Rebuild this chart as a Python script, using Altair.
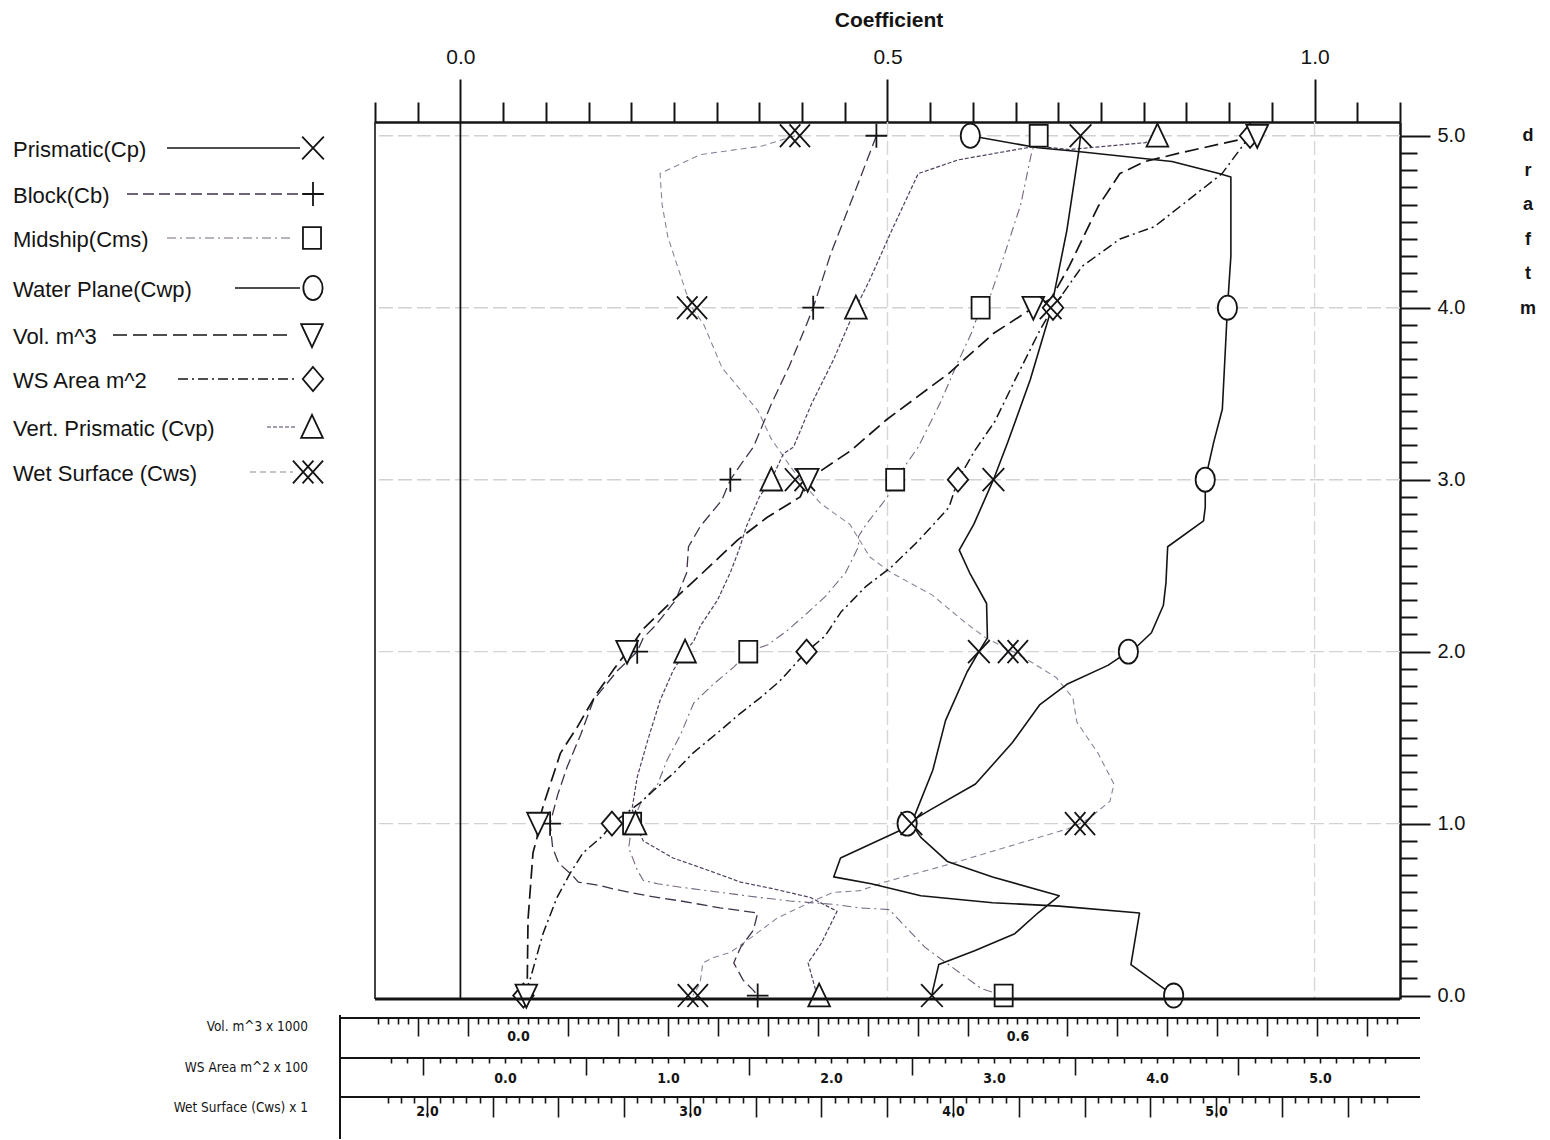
import altair as alt
import pandas as pd

# ---------------- values ----------------
MARK_DRAFTS = [0, 1, 2, 3, 4, 5]

# Prismatic (Cp)
cp_draft = [5.0, 4.91, 4.45, 3.98, 3.58, 3.22, 3.0, 2.74, 2.59, 2.46, 2.28, 2.08, 2.0, 1.88, 1.60, 1.31, 1.0,
            0.92, 0.78, 0.69, 0.58, 0.48, 0.36, 0.26, 0.18, 0.03, 0.0]
cp_value = [0.726, 0.724, 0.710, 0.691, 0.667, 0.641, 0.624, 0.601, 0.584, 0.596, 0.616, 0.617, 0.607, 0.593,
            0.568, 0.553, 0.528, 0.539, 0.570, 0.623, 0.701, 0.676, 0.649, 0.602, 0.560, 0.553, 0.552]
cp_marks = [0.552, 0.528, 0.607, 0.624, 0.691, 0.726]

# Block (Cb)
cb_draft = [5.0, 4.65, 4.32, 4.0, 3.90, 3.66, 3.44, 3.19, 3.10, 3.0, 2.88, 2.73, 2.61, 2.46, 2.30, 2.15, 2.08,
            2.0, 1.89, 1.72, 1.52, 1.33, 1.17, 1.0, 0.86, 0.77, 0.70, 0.66, 0.64, 0.62, 0.58, 0.55, 0.51, 0.48,
            0.38, 0.28, 0.19, 0.09, 0.03, 0.0]
cb_value = [0.487, 0.460, 0.434, 0.413, 0.405, 0.385, 0.364, 0.343, 0.330, 0.316, 0.306, 0.281, 0.267, 0.265,
            0.252, 0.228, 0.214, 0.207, 0.184, 0.156, 0.141, 0.125, 0.114, 0.105, 0.108, 0.115, 0.131, 0.138,
            0.164, 0.179, 0.219, 0.258, 0.304, 0.348, 0.343, 0.328, 0.320, 0.331, 0.343, 0.348]
cb_marks = [0.348, 0.105, 0.207, 0.316, 0.413, 0.487]

# Midship (Cms)
cms_draft = [5.0, 4.91, 4.60, 4.28, 4.05, 4.0, 3.85, 3.69, 3.45, 3.19, 3.0, 2.90, 2.74, 2.67, 2.61, 2.46, 2.32,
             2.22, 2.12, 2.04, 2.0, 1.91, 1.81, 1.70, 1.52, 1.37, 1.23, 1.12, 1.0, 0.86, 0.73, 0.67, 0.65, 0.63,
             0.59, 0.57, 0.55, 0.53, 0.51, 0.50, 0.28, 0.04, 0.0]
cms_value = [0.677, 0.669, 0.656, 0.635, 0.619, 0.609, 0.598, 0.583, 0.562, 0.536, 0.509, 0.500, 0.475, 0.466,
             0.466, 0.451, 0.427, 0.405, 0.382, 0.360, 0.337, 0.320, 0.296, 0.273, 0.258, 0.242, 0.231, 0.211,
             0.201, 0.197, 0.207, 0.214, 0.231, 0.258, 0.320, 0.351, 0.386, 0.437, 0.468, 0.502, 0.544, 0.610,
             0.636]
cms_marks = [0.636, 0.201, 0.337, 0.509, 0.609, 0.677]

# Water Plane (Cwp)
cwp_draft = [5.0, 4.93, 4.91, 4.85, 4.78, 4.76, 4.30, 4.0, 3.41, 3.22, 3.0, 2.84, 2.76, 2.61, 2.40, 2.27, 2.11,
             2.03, 2.0, 1.92, 1.81, 1.69, 1.47, 1.23, 1.08, 1.0, 0.97, 0.80, 0.69, 0.65, 0.58, 0.54, 0.52, 0.48,
             0.18, 0.0]
cwp_value = [0.597, 0.676, 0.720, 0.833, 0.888, 0.902, 0.902, 0.898, 0.892, 0.882, 0.872, 0.872, 0.870, 0.828,
             0.826, 0.823, 0.809, 0.792, 0.782, 0.758, 0.710, 0.678, 0.646, 0.603, 0.550, 0.523, 0.519, 0.445,
             0.437, 0.481, 0.539, 0.623, 0.701, 0.795, 0.785, 0.835]
cwp_marks = [0.835, 0.523, 0.782, 0.872, 0.898, 0.597]

# Vol. m^3 (x 1000)
vol_draft = [5.0, 4.90, 4.85, 4.78, 4.59, 4.24, 4.05, 4.0, 3.85, 3.62, 3.35, 3.17, 3.0, 2.90, 2.78, 2.65, 2.45,
             2.27, 2.13, 2.03, 2.0, 1.91, 1.76, 1.56, 1.41, 1.13, 1.0, 0.92, 0.83, 0.44, 0.03, 0.0]
vol_value = [0.888, 0.795, 0.753, 0.723, 0.697, 0.662, 0.640, 0.619, 0.571, 0.518, 0.443, 0.400, 0.348, 0.339,
             0.299, 0.264, 0.220, 0.180, 0.150, 0.136, 0.131, 0.117, 0.095, 0.071, 0.051, 0.032, 0.024, 0.023,
             0.018, 0.012, 0.011, 0.010]
vol_marks = [0.010, 0.024, 0.131, 0.348, 0.619, 0.888]

# WS Area m^2 (x 100)
ws_draft = [5.0, 4.78, 4.47, 4.40, 4.24, 4.0, 3.87, 3.58, 3.34, 3.17, 3.0, 2.84, 2.73, 2.63, 2.49, 2.38, 2.23,
            2.09, 2.0, 1.83, 1.73, 1.64, 1.54, 1.41, 1.29, 1.19, 1.12, 1.0, 0.93, 0.83, 0.71, 0.57, 0.36, 0.09, 0.0]
ws_value = [4.571, 4.399, 3.982, 3.773, 3.540, 3.362, 3.282, 3.129, 3.006, 2.883, 2.779, 2.724, 2.620, 2.521,
            2.368, 2.215, 2.061, 1.963, 1.850, 1.687, 1.564, 1.442, 1.319, 1.153, 1.031, 0.908, 0.828, 0.656,
            0.601, 0.479, 0.399, 0.319, 0.233, 0.153, 0.113]
ws_marks = [0.113, 0.656, 1.850, 2.779, 3.362, 4.571]

# Vert. Prismatic (Cvp)
cvp_draft = [5.0, 4.96, 4.92, 4.94, 4.86, 4.78, 4.45, 4.16, 4.0, 3.70, 3.44, 3.19, 3.15, 3.0, 2.90, 2.73, 2.59,
             2.46, 2.30, 2.15, 2.06, 2.0, 1.89, 1.72, 1.48, 1.27, 1.09, 1.0, 0.90, 0.80, 0.73, 0.66, 0.62, 0.57,
             0.49, 0.30, 0.19, 0.03, 0.0]
cvp_value = [0.816, 0.802, 0.713, 0.674, 0.583, 0.536, 0.505, 0.479, 0.463, 0.437, 0.411, 0.390, 0.378, 0.364,
             0.350, 0.335, 0.326, 0.316, 0.301, 0.281, 0.273, 0.263, 0.249, 0.234, 0.219, 0.207, 0.201, 0.205,
             0.214, 0.249, 0.289, 0.328, 0.367, 0.410, 0.441, 0.422, 0.407, 0.416, 0.420]
cvp_marks = [0.420, 0.205, 0.263, 0.364, 0.463, 0.816]

# Wet Surface (Cws) (x 1)
cws_draft = [5.0, 4.94, 4.89, 4.78, 4.60, 4.41, 4.09, 4.0, 3.90, 3.65, 3.40, 3.24, 3.08, 3.0, 2.86, 2.74, 2.55,
             2.46, 2.33, 2.17, 2.08, 2.0, 1.94, 1.85, 1.73, 1.59, 1.41, 1.23, 1.13, 1.03, 1.0, 0.97, 0.76, 0.66,
             0.61, 0.60, 0.55, 0.45, 0.32, 0.25, 0.22, 0.19, 0.07, 0.0]
cws_value = [3.399, 3.274, 3.038, 2.886, 2.894, 2.916, 2.985, 3.008, 3.053, 3.122, 3.259, 3.308, 3.380, 3.418,
             3.498, 3.608, 3.684, 3.764, 3.920, 4.046, 4.125, 4.228, 4.297, 4.392, 4.456, 4.471, 4.551, 4.612,
             4.597, 4.517, 4.483, 4.437, 3.977, 3.741, 3.646, 3.544, 3.468, 3.331, 3.217, 3.152, 3.087, 3.049,
             3.038, 3.011]
cws_marks = [3.011, 4.483, 4.228, 3.418, 3.008, 3.399]

grid_drafts = [1, 2, 3, 4, 5]
grid_coefs = [0.5, 1.0]
zero_coef = [0.0]

# tick positions of the axes
top_ticks = [round(-0.1 + 0.05 * i, 2) for i in range(25)]
draft_ticks = [round(0.1 * i, 1) for i in range(51)]
vol_ticks = [round(0.012 * k, 3) for k in range(-14, 89)]
ws_ticks = [round(0.1 * k, 1) for k in range(-7, 55)]
cws_ticks = [round(0.05 * k, 2) for k in range(37, 114)]

# ---------------- layout / style ----------------
W, H = 1025, 877
XDOM = [-0.1, 1.1]
YDOM = [-0.02, 5.08]
VOLDOM = [-0.1718, 1.0595]
WSDOM = [-0.7975, 5.4908]
CWSDOM = [1.8023, 5.6996]

FONT = "Liberation Sans"
NARROW = "DejaVu Sans Condensed"
INK = "#141414"

P_X = "M-0.9,-0.95L0.9,0.95M-0.9,0.95L0.9,-0.95"
P_PLUS = "M-0.9,0L0.9,0M0,-1L0,1"
P_SQ = "M-0.75,-0.9L0.75,-0.9L0.75,0.9L-0.75,0.9Z"
P_ELL = "M0,-1C0.45,-1 0.8,-0.55 0.8,0C0.8,0.55 0.45,1 0,1C-0.45,1 -0.8,0.55 -0.8,0C-0.8,-0.55 -0.45,-1 0,-1Z"
P_TDN = "M-0.9,-0.9L0.9,-0.9L0,1Z"
P_DIA = "M0,-1L0.85,0L0,1L-0.85,0Z"
P_TUP = "M0,-1L0.9,0.9L-0.9,0.9Z"
P_XX = "M-1.25,-0.95L0.45,0.95M-1.25,0.95L0.45,-0.95M-0.45,-0.95L1.25,0.95M-0.45,0.95L1.25,-0.95"

STY = {
    "cp": dict(color=INK, width=1.6, dash=None, shape=P_X, fill=False),
    "cb": dict(color="#3e3348", width=1.3, dash=[11, 5], shape=P_PLUS, fill=False),
    "cms": dict(color="#75687f", width=1.1, dash=[9, 4, 2, 4], shape=P_SQ, fill=True),
    "cwp": dict(color=INK, width=1.6, dash=None, shape=P_ELL, fill=True),
    "vol": dict(color=INK, width=1.7, dash=[14, 6], shape=P_TDN, fill=True),
    "ws": dict(color=INK, width=1.5, dash=[10, 4, 2, 4], shape=P_DIA, fill=True),
    "cvp": dict(color="#4f3f5f", width=1.2, dash=[4, 2], shape=P_TUP, fill=True),
    "cws": dict(color="#8d8398", width=1.1, dash=[6, 4], shape=P_XX, fill=False),
}


def cond(test, a, b):
    return {"condition": {"test": test, "value": a}, "value": b}


y_axis = alt.Axis(
    orient="right", values=draft_ticks, title=None, grid=False,
    tickSize=cond("abs(datum.value - round(datum.value)) < 0.001", 30, 17),
    labelExpr="abs(datum.value - round(datum.value)) < 0.001 ? format(datum.value, '.1f') : ''",
    labelPadding=7, labelFont=FONT, labelFontSize=20, labelColor=INK, labelOverlap=False,
    tickColor=INK, tickWidth=2, domainColor=INK, domainWidth=2.5)
Y = alt.Y("draft:Q", scale=alt.Scale(domain=YDOM, nice=False, zero=False), axis=y_axis)

top_axis = alt.Axis(
    orient="top", values=top_ticks, title=None, grid=False,
    tickSize=cond("abs(datum.value*2 - round(datum.value*2)) < 0.001", 43, 20),
    labelExpr="abs(datum.value*2 - round(datum.value*2)) < 0.001 ? format(datum.value, '.1f') : ''",
    labelPadding=12, labelFont=FONT, labelFontSize=21, labelColor=INK, labelOverlap=False, labelFlush=False,
    tickColor=INK, tickWidth=2, domainColor=INK, domainWidth=2.5)

vol_axis = alt.Axis(
    orient="bottom", offset=19, values=vol_ticks, title=None, grid=False, domain=False,
    tickSize=cond("round(datum.value/0.012) % 5 == 0 && round(datum.value/0.012) % 50 != 0", 18, 6),
    labelExpr="round(datum.value/0.012) % 50 == 0 ? format(datum.value, '.1f') : ''",
    labelPadding=5, labelFont=NARROW, labelFontWeight="bold", labelFontSize=14, labelColor=INK,
    labelOverlap=False, labelFlush=False, tickColor=INK, tickWidth=1.6)

ws_axis = alt.Axis(
    orient="bottom", offset=59, values=ws_ticks, title=None, grid=False, domain=False,
    tickSize=cond("abs(round(datum.value*10) % 10) == 5", 17, 5),
    labelExpr="round(datum.value*10) % 10 == 0 ? format(datum.value, '.1f') : ''",
    labelPadding=8, labelFont=NARROW, labelFontWeight="bold", labelFontSize=14, labelColor=INK,
    labelOverlap=False, labelFlush=False, tickColor=INK, tickWidth=1.6)

cws_axis = alt.Axis(
    orient="bottom", offset=98, values=cws_ticks, title=None, grid=False, domain=False,
    tickSize=cond("round(datum.value*20) % 5 == 0", 20, 6),
    labelExpr="round(datum.value*20) % 20 == 0 ? format(datum.value, '.1f') : ''",
    labelPadding=-13, labelFont=NARROW, labelFontWeight="bold", labelFontSize=14, labelColor=INK,
    labelOverlap=False, labelFlush=False, tickColor=INK, tickWidth=1.6)


def xenc(dom, axis=None):
    return alt.X("value:Q", scale=alt.Scale(domain=dom, nice=False, zero=False), axis=axis)


def line_layer(draft, value, dom, key, axis=None):
    s = STY[key]
    df = pd.DataFrame({"draft": draft, "value": value, "idx": list(range(len(draft)))})
    kw = dict(color=s["color"], strokeWidth=s["width"], strokeJoin="round")
    if s["dash"]:
        kw["strokeDash"] = s["dash"]
    return alt.Chart(df).mark_line(**kw).encode(x=xenc(dom, axis), y=Y, order=alt.Order("idx:Q"))


def point_kw(key):
    s = STY[key]
    kw = dict(shape=s["shape"], size=580, stroke=INK, strokeWidth=1.8, opacity=1)
    if s["fill"]:
        kw.update(fill="white", fillOpacity=1, filled=True)
    else:
        kw.update(filled=False)
    return kw


def marker_layer(values, dom, key):
    df = pd.DataFrame({"draft": MARK_DRAFTS, "value": values})
    return alt.Chart(df).mark_point(**point_kw(key)).encode(x=xenc(dom), y=Y)


ONE = pd.DataFrame({"k": [0]})


def hrule(x1, x2, y, color=INK, width=1.5, dash=None):
    kw = dict(color=color, strokeWidth=width)
    if dash:
        kw["strokeDash"] = dash
    return alt.Chart(ONE).mark_rule(**kw).encode(x=alt.value(x1), x2=alt.value(x2), y=alt.value(y))


def vrule(x, y1, y2, color=INK, width=1.5):
    return alt.Chart(ONE).mark_rule(color=color, strokeWidth=width).encode(
        x=alt.value(x), y=alt.value(y1), y2=alt.value(y2))


def text(t, x, y, size, align="left", baseline="middle", font=FONT, weight="normal", **extra):
    return alt.Chart(ONE).mark_text(text=t, align=align, baseline=baseline, font=font, fontSize=size,
                                    fontWeight=weight, color=INK, **extra).encode(
        x=alt.value(x), y=alt.value(y))


layers = []

# grid lines, zero line
layers.append(alt.Chart(pd.DataFrame({"draft": grid_drafts})).mark_rule(
    color="#d2d2d2", strokeWidth=1.4, strokeDash=[14, 5]).encode(y=Y))
layers.append(alt.Chart(pd.DataFrame({"value": grid_coefs})).mark_rule(
    color="#d6d6d6", strokeWidth=1.4, strokeDash=[14, 5]).encode(x=xenc(XDOM, top_axis)))
layers.append(alt.Chart(pd.DataFrame({"value": zero_coef})).mark_rule(
    color=INK, strokeWidth=1.8).encode(x=xenc(XDOM)))

# curves
layers += [
    line_layer(cws_draft, cws_value, CWSDOM, "cws", cws_axis),
    line_layer(cms_draft, cms_value, XDOM, "cms"),
    line_layer(cvp_draft, cvp_value, XDOM, "cvp"),
    line_layer(cb_draft, cb_value, XDOM, "cb"),
    line_layer(ws_draft, ws_value, WSDOM, "ws", ws_axis),
    line_layer(vol_draft, vol_value, VOLDOM, "vol", vol_axis),
    line_layer(cwp_draft, cwp_value, XDOM, "cwp"),
    line_layer(cp_draft, cp_value, XDOM, "cp"),
]
# markers
layers += [
    marker_layer(cws_marks, CWSDOM, "cws"),
    marker_layer(cms_marks, XDOM, "cms"),
    marker_layer(cvp_marks, XDOM, "cvp"),
    marker_layer(cb_marks, XDOM, "cb"),
    marker_layer(ws_marks, WSDOM, "ws"),
    marker_layer(vol_marks, VOLDOM, "vol"),
    marker_layer(cwp_marks, XDOM, "cwp"),
    marker_layer(cp_marks, XDOM, "cp"),
]

# frame
layers.append(vrule(0, 0, H, width=1.6))
layers.append(hrule(0, W, H, width=3))

# titles
layers.append(text("Coefficient", 514, -101, 21, align="center", weight="bold"))
layers.append(text("d\nr\na\nf\nt\nm", 1153, 5, 18, align="center", baseline="top", weight="bold",
                   lineBreak="\n", lineHeight=34.6))

# legend (drawn by hand on the left)
legend_rows = [
    ("Prismatic(Cp)", "cp", 28, -208, -75, -62),
    ("Block(Cb)", "cb", 74, -248, -68, -62),
    ("Midship(Cms)", "cms", 118, -208, -82, -63),
    ("Water Plane(Cwp)", "cwp", 168, -140, -75, -62),
    ("Vol. m^3", "vol", 215, -262, -88, -63),
    ("WS Area m^2", "ws", 259, -197, -77, -62),
    ("Vert. Prismatic (Cvp)", "cvp", 307, -108, -78, -63),
    ("Wet Surface  (Cws)", "cws", 352, -125, -82, -67),
]
for label, key, ty, x1, x2, mx in legend_rows:
    s = STY[key]
    layers.append(text(label, -362, ty, 22))
    layers.append(hrule(x1, x2, ty - 2, color=s["color"], width=s["width"], dash=s["dash"]))
    layers.append(alt.Chart(ONE).mark_point(**point_kw(key)).encode(x=alt.value(mx), y=alt.value(ty - 2)))

# boxes of the secondary scales
for yy in (896, 936, 975):
    layers.append(hrule(-35, 1045, yy, width=2))
layers.append(vrule(-35, 893, 1020, width=2))
layers.append(text("Vol. m^3 x 1000", -67, 905, 13.5, align="right", font=NARROW))
layers.append(text("WS Area m^2 x 100", -67, 946, 13.5, align="right", font=NARROW))
layers.append(text("Wet Surface  (Cws) x 1", -67, 986, 13.5, align="right", font=NARROW))

chart = alt.layer(*layers).resolve_scale(x="independent").resolve_axis(x="independent").properties(
    width=W, height=H,
    padding={"left": 367, "top": 114, "right": 140, "bottom": 140},
    autosize=alt.AutoSizeParams(type="none"),
).configure_view(stroke=None)

chart.save("out.html", embed_options={"renderer": "svg", "actions": False})
